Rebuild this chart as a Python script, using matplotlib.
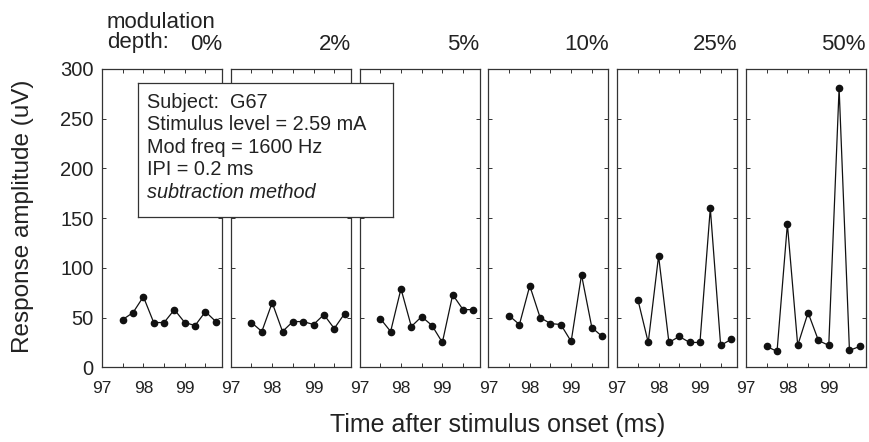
import numpy as np
import matplotlib
matplotlib.use('Agg')
import matplotlib.pyplot as plt

plt.rcParams['font.family'] = ['Liberation Sans', 'DejaVu Sans']

# time of each response (ms after stimulus onset)
t_ms = [97.5, 97.75, 98.0, 98.25, 98.5, 98.75, 99.0, 99.25, 99.5, 99.75]
depth_labels = ['0%', '2%', '5%', '10%', '25%', '50%']
amp_0 = [48, 55, 71, 45, 45, 58, 45, 42, 56, 46]
amp_2 = [45, 36, 65, 36, 46, 46, 43, 53, 39, 54]
amp_5 = [49, 36, 79, 41, 51, 42, 25, 73, 58, 58]
amp_10 = [52, 43, 82, 50, 44, 43, 26, 93, 40, 31]
amp_25 = [68, 25, 112, 25, 31, 25, 25, 160, 22, 28]
amp_50 = [21, 16, 144, 22, 55, 27, 22, 281, 17, 21]
amps = [amp_0, amp_2, amp_5, amp_10, amp_25, amp_50]

info_lines = ['Subject:  G67', 'Stimulus level = 2.59 mA', 'Mod freq = 1600 Hz', 'IPI = 0.2 ms']

W, H = 869, 442
fig = plt.figure(figsize=(W / 100, H / 100), dpi=100)
txt = '#222222'

left0 = 102
step = 128.8
pw = 120
bottom = 1 - 367.3 / H
height = (367.3 - 69) / H

for i in range(6):
    ax = fig.add_axes([(left0 + i * step) / W, bottom, pw / W, height])
    ax.plot(t_ms, amps[i], '-', color='#111111', lw=0.9)
    ax.plot(t_ms, amps[i], 'o', color='#111111', ms=4.5)
    ax.set_xlim(97, 99.9)
    ax.set_ylim(0, 300)
    ax.set_xticks([97, 97.5, 98, 98.5, 99, 99.5])
    ax.set_xticklabels(['97', '', '98', '', '99', ''])
    ax.set_yticks(np.arange(0, 301, 50))
    ax.tick_params(direction='in', top=True, right=True, length=3, width=0.7,
                   labelcolor=txt, colors='#333333')
    ax.tick_params(axis='x', pad=10, labelsize=12.5)
    ax.tick_params(axis='y', pad=6, labelsize=14.5)
    if i > 0:
        ax.set_yticklabels([])
    for s in ax.spines.values():
        s.set_linewidth(0.9)
        s.set_color('#333333')
    ax.set_title(depth_labels[i], loc='right', fontsize=16, color=txt, pad=14)

fig.text(107 / W, 1 - 28 / H, 'modulation', fontsize=16, color=txt, ha='left', va='baseline')
fig.text(107 / W, 1 - 48 / H, 'depth:', fontsize=16, color=txt, ha='left', va='baseline')

fig.text(23 / W, 1 - 216 / H, 'Response amplitude (uV)', fontsize=17.5, color=txt,
         rotation=90, ha='center', va='center')
fig.text(498 / W, 1 - 425 / H, 'Time after stimulus onset (ms)', fontsize=18, color=txt,
         ha='center', va='center')

# info box over first two panels
bx = fig.add_axes([137.5 / W, 1 - 217 / H, (392.5 - 137.5) / W, (217 - 83) / H], zorder=5)
bx.set_xticks([])
bx.set_yticks([])
bx.set_facecolor('white')
for s in bx.spines.values():
    s.set_linewidth(0.9)
    s.set_color('#333333')
for k, line in enumerate(info_lines):
    fig.text(147 / W, 1 - (108 + k * 22.5) / H, line, fontsize=14.3, color=txt,
             ha='left', va='baseline', zorder=6)
fig.text(147 / W, 1 - (108 + 4 * 22.5) / H, 'subtraction method', fontsize=14.3, color=txt,
         style='italic', ha='left', va='baseline', zorder=6)

fig.savefig('out.png', dpi=100)
